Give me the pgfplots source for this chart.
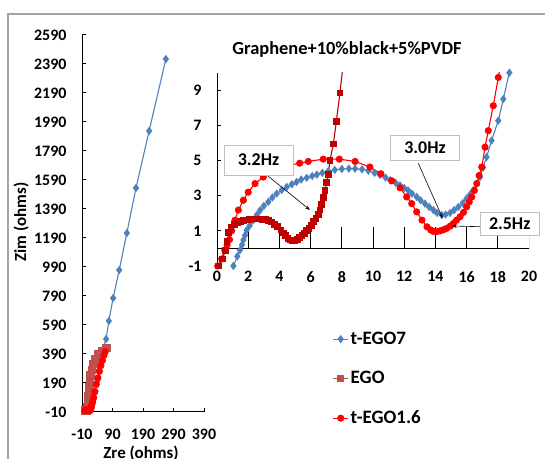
\documentclass[border=0pt]{standalone}
\usepackage{fontspec}
\setmainfont{Carlito}
\usepackage{pgfplots}
\pgfplotsset{compat=1.18}
\usepackage{pgfplotstable}
\usetikzlibrary{arrows.meta}

\definecolor{cblue}{RGB}{79,129,189}
\definecolor{cdred}{RGB}{192,0,0}
\definecolor{clred}{RGB}{192,80,77}
\definecolor{cred}{RGB}{255,0,0}
\definecolor{cframe}{RGB}{165,165,165}
\definecolor{cbox}{RGB}{191,191,191}

% t-EGO7
\pgfplotstableread{
x y
1.05 -1.0
1.30 -0.45
1.47 -0.1
1.60 0.2
1.69 0.48
1.80 0.75
1.90 1.04
2.10 1.30
2.33 1.60
2.55 1.90
2.76 2.17
3.00 2.42
3.29 2.65
3.55 2.90
3.83 3.12
4.15 3.32
4.47 3.50
4.80 3.65
5.10 3.78
5.40 3.92
5.75 4.02
6.10 4.12
6.40 4.20
6.75 4.30
7.13 4.40
7.55 4.47
8.00 4.52
8.45 4.54
8.85 4.54
9.30 4.50
9.70 4.42
10.10 4.30
10.45 4.18
10.80 4.03
11.10 3.88
11.45 3.73
11.73 3.59
12.00 3.44
12.25 3.30
12.50 3.12
12.80 2.93
13.05 2.74
13.33 2.55
13.60 2.36
13.87 2.18
14.10 2.02
14.40 1.90
14.65 1.93
14.94 2.02
15.20 2.18
15.47 2.36
15.75 2.58
16.00 2.84
16.22 3.07
16.43 3.30
16.65 3.68
16.86 4.06
17.05 4.60
17.28 5.20
17.60 6.14
18.03 7.27
18.35 8.50
18.74 10.00
19.20 12.5
20 17
22 30
25 50
29 80
34 130
40 200
46 280
52 350
58 420
69 493
78 618
92 776
112 969
137 1224
167 1535
210 1928
265 2424
}\tegoseven

% EGO
\pgfplotstableread{
x y
0.10 -1.0
0.35 -0.6
0.55 -0.1
0.65 0.4
0.75 0.9
0.90 1.2
1.10 1.35
1.30 1.45
1.50 1.52
1.70 1.57
1.90 1.62
2.10 1.65
2.30 1.67
2.50 1.68
2.70 1.68
2.90 1.66
3.10 1.63
3.30 1.58
3.50 1.50
3.70 1.38
3.90 1.23
4.10 1.05
4.25 0.88
4.40 0.72
4.55 0.58
4.70 0.48
4.85 0.44
5.00 0.46
5.15 0.52
5.30 0.62
5.45 0.73
5.60 0.86
5.75 1.00
5.90 1.15
6.05 1.32
6.20 1.52
6.35 1.72
6.50 1.95
6.60 2.18
6.72 2.50
6.82 2.90
6.92 3.30
7.03 3.75
7.13 4.20
7.24 5.00
7.46 5.95
7.65 7.24
7.88 8.84
8.10 10.6
8.5 16
9 25
10 45
11 70
12 100
13 130
14 160
16 200
19 240
23 280
28 320
35 355
45 385
57 410
70 432
}\ego

% t-EGO1.6
\pgfplotstableread{
x y
0.05 -1.0
0.30 -0.6
0.50 -0.1
0.65 0.2
0.80 0.5
0.94 1.0
1.15 1.6
1.37 2.18
1.69 2.74
2.00 3.20
2.44 3.69
2.97 4.06
3.50 4.35
4.10 4.55
4.68 4.73
5.30 4.85
5.85 4.95
6.81 5.08
7.84 5.08
8.85 4.95
9.80 4.63
10.50 4.25
11.20 3.85
11.73 3.45
12.16 2.93
12.48 2.55
12.80 2.08
13.14 1.61
13.46 1.23
13.70 1.05
13.87 0.97
14.10 0.96
14.30 1.00
14.50 1.06
14.72 1.14
14.95 1.27
15.15 1.42
15.35 1.60
15.58 1.80
15.80 2.05
16.00 2.36
16.17 2.65
16.33 2.93
16.50 3.30
16.65 3.69
16.80 4.15
16.97 4.63
17.18 5.76
17.39 6.70
17.71 8.12
18.03 9.73
18.40 11.5
19 16
20 23
22 38
25 60
28 90
32 130
37 180
42 225
47 270
52 310
57 345
62 380
66 405
}\tegoonesix

\pgfplotsset{
  s7/.style={color=cblue, line width=1.1bp, mark=diamond*, mark size=3.3bp, mark options={solid, fill=cblue}},
  se/.style={color=cdred, line width=1.1bp, mark=square*, mark size=2.8bp, mark options={solid, fill=cdred}},
  seL/.style={color=clred, line width=1.1bp, mark=square*, mark size=2.8bp, mark options={solid, fill=clred}},
  seM/.style={color=clred, line width=1.1bp, mark=square*, mark size=3.8bp, mark options={solid, fill=clred}},
  s16/.style={color=cred, line width=1.1bp, mark=*, mark size=3bp, mark options={solid, fill=cred}},
}

\begin{document}
\begin{tikzpicture}[x=1bp,y=1bp]
\useasboundingbox (0,0) rectangle (545,459);
\draw[cframe, line width=1.2bp] (8,-30) -- (8,445) -- (600,445);

% main axis
\begin{axis}[
  at={(82bp,47bp)}, anchor=south west,
  scale only axis, width=122bp, height=377bp,
  axis lines=left, axis line style={-, line width=1bp},
  tick align=inside, major tick length=4bp,
  tick style={black, line width=1bp},
  xmin=-10, xmax=390, ymin=-10, ymax=2590,
  xtick={-10,90,190,290,390},
  ytick={-10,190,390,590,790,990,1190,1390,1590,1790,1990,2190,2390,2590},
  tick label style={font=\fontsize{16}{16}\selectfont\bfseries},
  /pgf/number format/assume math mode=true,
  /pgf/number format/1000 sep={},
  yticklabel style={xshift=-12bp},
  xticklabel style={yshift=-14bp},
]
\addplot[s7] table[x=x,y=y] {\tegoseven};
\addplot[seM] table[x=x,y=y] {\ego};
\addplot[s16] table[x=x,y=y] {\tegoonesix};
\end{axis}

\node[font=\fontsize{17}{17}\selectfont\bfseries, rotate=90] at (21,237) {Zim (ohms)};
\node[font=\fontsize{17}{17}\selectfont\bfseries] at (141,6) {Zre (ohms)};

% inset axis
\begin{axis}[
  at={(217bp,193bp)}, anchor=south west,
  scale only axis, width=312bp, height=193.3bp,
  axis y line*=left, axis x line*=bottom,
  x axis line style={draw=none},
  y axis line style={-, line width=1bp},
  tick align=inside, major tick length=4bp,
  ytick style={black, line width=1bp},
  xtick style={draw=none},
  xmin=0, xmax=20, ymin=-1, ymax=10,
  restrict y to domain=-5:30,
  restrict x to domain=-5:30,
  xtick={0,2,...,20}, ytick={-1,1,3,5,7,9},
  tick label style={font=\fontsize{16}{16}\selectfont\bfseries},
  /pgf/number format/assume math mode=true,
  yticklabel style={xshift=-12bp},
  xticklabel style={yshift=-2bp},
  legend style={draw=none, fill=none, at={(0.37,-0.331)}, anchor=north west,
    font=\fontsize{19}{19}\selectfont\bfseries, row sep=21.5bp, inner sep=0pt},
  legend cell align=left,
  legend image code/.code={\draw[mark repeat=2,mark phase=2] plot coordinates {(0bp,0bp) (7.5bp,0bp) (15bp,0bp)};},
]
\addplot[s7] table[x=x,y=y] {\tegoseven};
\addlegendentry{t-EGO7}
\addlegendimage{seL}
\addlegendentry{EGO}
\addplot[s16] table[x=x,y=y] {\tegoonesix};
\addlegendentry{t-EGO1.6}
\addplot[se, forget plot] table[x=x,y=y] {\ego};
\draw[black, line width=1bp] (axis cs:0,0) -- (axis cs:20,0);
\pgfplotsinvokeforeach{2,4,...,20}{\draw[black, line width=1bp] (axis cs:#1,0) -- ++(0,4bp);}
\end{axis}

% title
\node[font=\fontsize{18.5}{18.5}\selectfont\bfseries] at (347,410) {Graphene+10\%black+5\%PVDF};

% annotations
\draw[black, line width=0.6bp, -{Stealth[length=5bp,width=3.5bp]}] (266.7,284) -- (310,249);
\node[draw=cbox, fill=white, line width=0.8bp, minimum width=69bp, minimum height=30bp, font=\fontsize{18}{18}\selectfont\bfseries] at (258.5,299) {3.2Hz};

\draw[black, line width=0.6bp, -{Stealth[length=5bp,width=3.5bp]}] (418.3,295.7) -- (442.7,240.7);
\node[draw=cbox, fill=white, line width=0.8bp, minimum width=69bp, minimum height=25bp, font=\fontsize{18}{18}\selectfont\bfseries] at (425,311.5) {3.0Hz};

\draw[black, line width=0.6bp, -{Stealth[length=5bp,width=3.5bp]}] (480,232.3) -- (451.7,233);
\node[draw=cbox, fill=white, line width=0.8bp, minimum width=59bp, minimum height=22.3bp, font=\fontsize{18}{18}\selectfont\bfseries] at (509.7,235.2) {2.5Hz};
\end{tikzpicture}
\end{document}
